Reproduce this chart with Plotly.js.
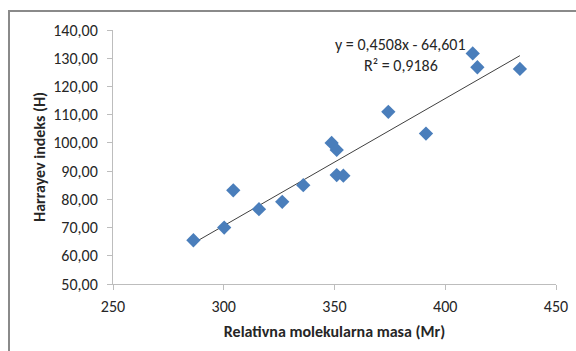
<!DOCTYPE html>
<html>
<head>
<meta charset="utf-8">
<script src="https://cdn.plot.ly/plotly-3.0.1.min.js"></script>
<style>
html,body{margin:0;padding:0;background:#fff;overflow:hidden;}
#frame{position:absolute;left:8px;top:10px;width:600px;height:400px;border-top:2px solid #8a8a8a;border-left:2px solid #8a8a8a;box-sizing:border-box;pointer-events:none;z-index:5;}
#chart{position:absolute;left:0;top:0;width:576px;height:351px;}
</style>
</head>
<body>
<div id="chart"></div>
<div id="frame"></div>
<script>
// Data
var molarMass = [286.3, 300.2, 304.3, 315.9, 326.4, 335.9, 348.7, 351.0, 351.0, 354.0, 374.3, 391.3, 412.4, 414.5, 433.7];
var harrayIndex = [65.5, 70.0, 83.2, 76.5, 79.1, 85.0, 100.0, 97.5, 88.6, 88.4, 111.0, 103.3, 131.7, 126.8, 126.2];
var trendSlope = 0.4508;
var trendIntercept = -64.601;
var equationText = "y = 0,4508x - 64,601";
var r2Text = "R² = 0,9186";
var xTicks = [250, 300, 350, 400, 450];
var yTicks = [50, 60, 70, 80, 90, 100, 110, 120, 130, 140];

var xMin = Math.min.apply(null, molarMass);
var xMax = Math.max.apply(null, molarMass);
var trendX = [xMin, xMax];
var trendY = trendX.map(function(x){ return trendSlope * x + trendIntercept; });

var font = "Carlito, Calibri, 'Liberation Sans', Arial, sans-serif";

var data = [
  {
    x: trendX, y: trendY, type: 'scatter', mode: 'lines',
    line: {color: '#404040', width: 1},
    hoverinfo: 'skip', showlegend: false
  },
  {
    x: molarMass, y: harrayIndex, type: 'scatter', mode: 'markers',
    marker: {symbol: 'diamond', size: 11, color: '#4a7ebb', line: {width: 0}},
    showlegend: false
  }
];

var layout = {
  width: 576, height: 351,
  margin: {l: 113, r: 20, t: 30, b: 67, pad: 0},
  paper_bgcolor: '#ffffff', plot_bgcolor: '#ffffff',
  separators: ', ',
  font: {family: font, size: 16, color: '#262626'},
  xaxis: {
    range: [250, 450], tickvals: xTicks, ticktext: xTicks.map(String),
    showgrid: false, zeroline: false,
    showline: true, linecolor: '#bdbdbd', linewidth: 1,
    ticks: 'outside', ticklen: 5, tickcolor: '#bdbdbd',
    ticklabelstandoff: 3,
    tickfont: {family: font, size: 16, color: '#262626'},
    title: {text: '<b>Relativna molekularna masa (Mr)</b>', font: {family: font, size: 16, color: '#262626'}, standoff: 10}
  },
  yaxis: {
    range: [50, 140], tickvals: yTicks, tickformat: '.2f',
    showgrid: false, zeroline: false,
    showline: true, linecolor: '#bdbdbd', linewidth: 1,
    ticks: 'outside', ticklen: 5, tickcolor: '#bdbdbd',
    ticklabelstandoff: 6,
    tickfont: {family: font, size: 16, color: '#262626'},
    title: {text: '<b>Harrayev indeks (H)</b>', font: {family: font, size: 16, color: '#262626'}, standoff: 3}
  },
  annotations: [
    {x: 0.650, y: 0.941, xref: 'paper', yref: 'paper', text: equationText, showarrow: false,
     xanchor: 'center', yanchor: 'middle', font: {family: font, size: 16, color: '#262626'}},
    {x: 0.650, y: 0.862, xref: 'paper', yref: 'paper', text: r2Text, showarrow: false,
     xanchor: 'center', yanchor: 'middle', font: {family: font, size: 16, color: '#262626'}}
  ]
};

Plotly.newPlot('chart', data, layout, {displayModeBar: false, staticPlot: true});
</script>
</body>
</html>
